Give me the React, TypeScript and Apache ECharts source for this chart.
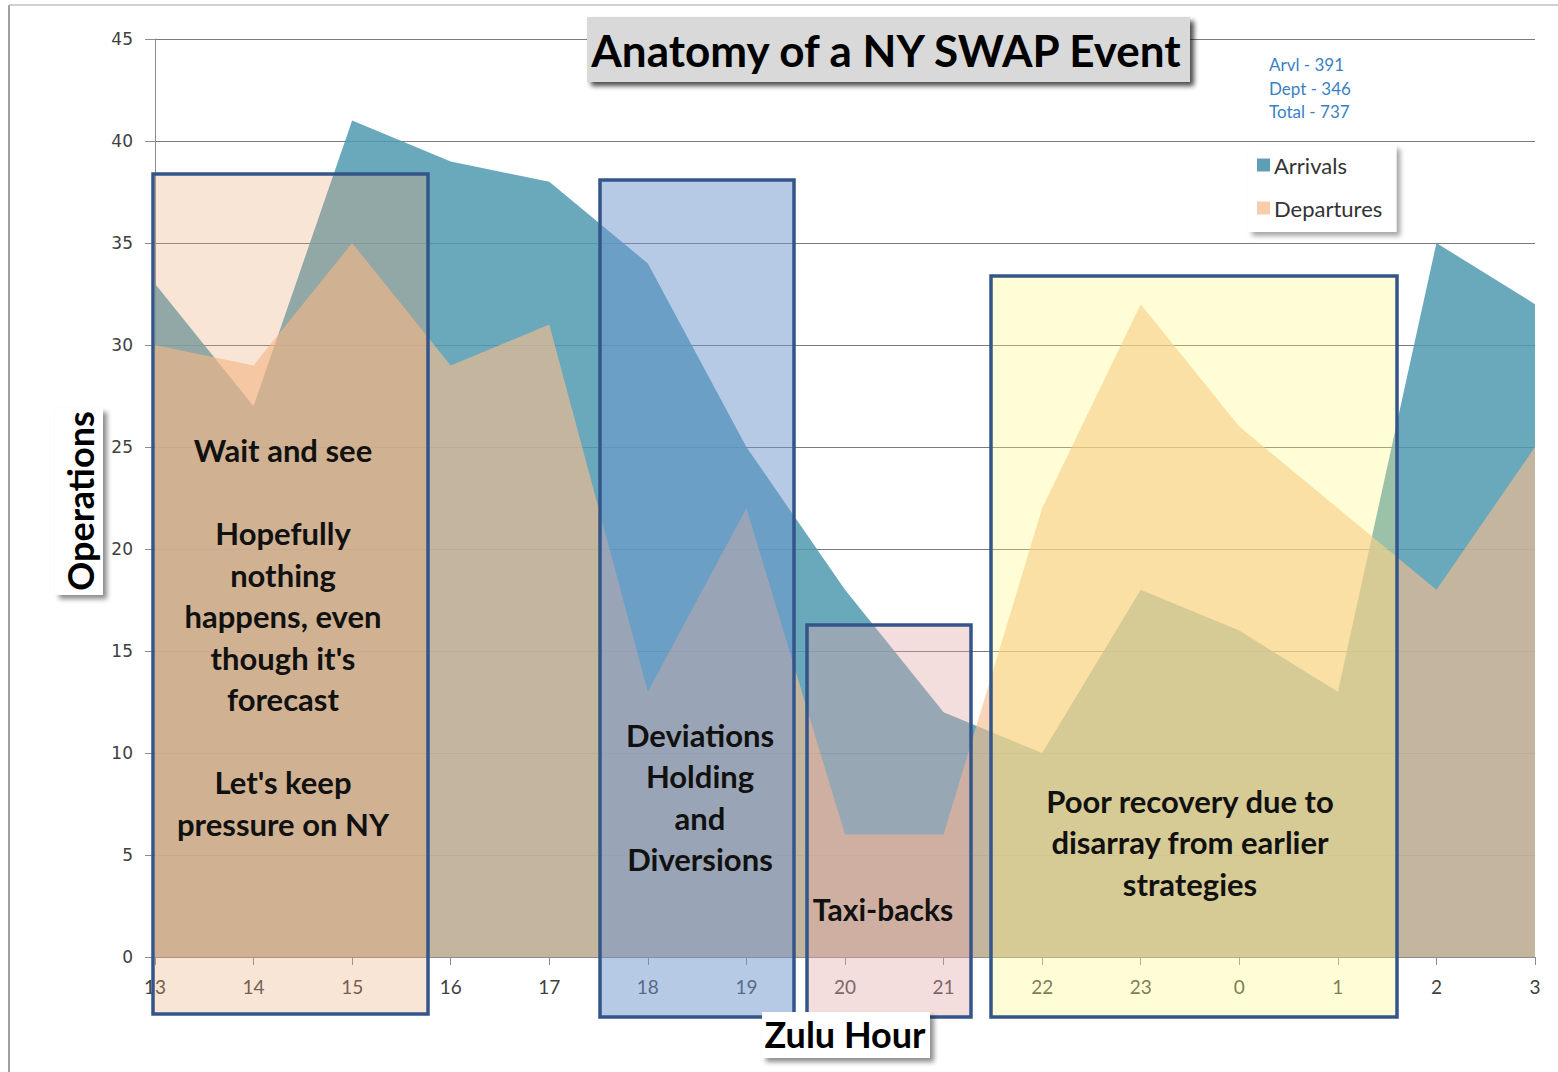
import React, { useEffect, useRef } from "react";
import * as echarts from "echarts";

const hours = ["13", "14", "15", "16", "17", "18", "19", "20", "21", "22", "23", "0", "1", "2", "3"];
const arrivals = [33, 27, 41, 39, 38, 34, 25, 18, 12, 10, 18, 16, 13, 35, 32];
const departures = [30, 29, 35, 29, 31, 13, 22, 6, 6, 22, 32, 26, 22, 18, 25];
const yTicks = { min: 0, max: 45, interval: 5 };

const titleText = "Anatomy of a NY SWAP Event";
const statsLines = ["Arvl - 391", "Dept - 346", "Total - 737"];

const boxTexts = [
  "Wait and see\n\nHopefully\nnothing\nhappens, even\nthough it's\nforecast\n\nLet's keep\npressure on NY",
  "Deviations\nHolding\nand\nDiversions",
  "Taxi-backs",
  "Poor recovery due to\ndisarray from earlier\nstrategies",
];

const TEAL = "rgba(80,153,176,0.85)";
const PEACH = "rgba(247,187,141,0.64)";
const FONT = "Lato, 'Noto Sans', sans-serif";

export default function App() {
  const ref = useRef<HTMLDivElement>(null);
  useEffect(() => {
    if (!ref.current) return;
    const chart = echarts.init(ref.current, null, { renderer: "svg" });
    const shadow = { shadowBlur: 5, shadowOffsetX: 4, shadowOffsetY: 4, shadowColor: "rgba(0,0,0,0.45)" };
    const boxStroke = "#34558a";
    const mkBox = (x: number, y: number, w: number, h: number, fill: string) => ({
      type: "rect",
      z: 50,
      shape: { x, y, width: w, height: h },
      style: { fill, stroke: boxStroke, lineWidth: 3.5 },
    });
    const mkText = (x: number, y: number, text: string, size = 31) => ({
      type: "text",
      z: 60,
      x,
      y,
      style: {
        text,
        fill: "#111",
        font: `bold ${size}px ${FONT}`,
        align: "center",
        verticalAlign: "middle",
        lineHeight: 41.5,
      },
    });
    chart.setOption({
      animation: false,
      backgroundColor: "#fff",
      grid: { left: 155, right: 23, top: 39, bottom: 115, containLabel: false },
      xAxis: {
        type: "value",
        min: 0,
        max: hours.length - 1,
        interval: 1,
        axisLine: { show: true, lineStyle: { color: "#8c8c8c", width: 1 } },
        axisTick: { show: true, length: 8, lineStyle: { color: "#8c8c8c" } },
        splitLine: { show: false },
        axisLabel: {
          formatter: (v: number) => hours[v] ?? "",
          color: "#404040",
          fontSize: 19,
          fontFamily: FONT,
          margin: 20,
        },
      },
      yAxis: {
        type: "value",
        min: yTicks.min,
        max: yTicks.max,
        interval: yTicks.interval,
        axisLine: { show: true, lineStyle: { color: "#8c8c8c", width: 1 } },
        axisTick: { show: true, length: 10, lineStyle: { color: "#8c8c8c" } },
        splitLine: { show: true, lineStyle: { color: "#7a7a7a", width: 1 } },
        axisLabel: {
          color: "#404040",
          fontSize: 17,
          fontFamily: "'DejaVu Sans', sans-serif",
          margin: 22,
        },
      },
      legend: {
        orient: "vertical",
        left: 1248,
        top: 145,
        padding: [9, 14, 13, 9],
        itemGap: 21,
        itemWidth: 13,
        itemHeight: 13,
        icon: "rect",
        backgroundColor: "#fff",
        shadowBlur: 5,
        shadowOffsetX: 4,
        shadowOffsetY: 4,
        shadowColor: "rgba(0,0,0,0.35)",
        textStyle: { fontSize: 22, color: "#333", fontFamily: FONT, padding: [0, 0, 0, -1] },
        data: [
          { name: "Arrivals", itemStyle: { color: "#5f9fb5" } },
          { name: "Departures", itemStyle: { color: "#f9cda9" } },
        ],
      },
      series: [
        {
          name: "Arrivals",
          type: "line",
          data: arrivals.map((v, i) => [i, v]),
          showSymbol: false,
          lineStyle: { width: 0 },
          itemStyle: { color: "#5f9fb5" },
          areaStyle: { color: TEAL, opacity: 1 },
          z: 2,
        },
        {
          name: "Departures",
          type: "line",
          data: departures.map((v, i) => [i, v]),
          showSymbol: false,
          lineStyle: { width: 0 },
          itemStyle: { color: "#f9cda9" },
          areaStyle: { color: PEACH, opacity: 1 },
          z: 3,
        },
      ],
      graphic: [
        // outer frame
        { type: "line", z: 1, shape: { x1: 9, y1: 5, x2: 9, y2: 1072 }, style: { stroke: "#a0a0a0", lineWidth: 2 } },
        { type: "line", z: 1, shape: { x1: 9, y1: 5, x2: 1558, y2: 5 }, style: { stroke: "#c0c0c0", lineWidth: 1.5 } },
        // annotation boxes
        mkBox(153, 174, 275, 840, "rgba(235,170,120,0.3)"),
        mkBox(600, 180, 194, 837, "rgba(110,150,205,0.5)"),
        mkBox(807, 625, 164, 392, "rgba(225,165,165,0.38)"),
        mkBox(991, 276, 406, 741, "rgba(255,248,130,0.33)"),
        mkText(283, 637, boxTexts[0]),
        mkText(700, 797, boxTexts[1]),
        mkText(883, 909, boxTexts[2], 30),
        mkText(1190, 842, boxTexts[3]),
        // highlight line
        {
          type: "line",
          z: 70,
          shape: { x1: 615, y1: 647, x2: 777, y2: 647 },
          style: { stroke: "#ffff00", lineWidth: 8, shadowBlur: 24, shadowColor: "rgba(170,215,60,0.95)" },
        },
        // title
        {
          type: "rect",
          z: 80,
          shape: { x: 587, y: 17, width: 603, height: 65 },
          style: { fill: "#d9d9d9", ...shadow, shadowColor: "rgba(0,0,0,0.7)" },
        },
        {
          type: "text",
          z: 81,
          x: 886,
          y: 50,
          style: { text: titleText, fill: "#000", font: `bold 44px ${FONT}`, align: "center", verticalAlign: "middle" },
        },
        // stats
        {
          type: "text",
          z: 81,
          x: 1269,
          y: 88,
          style: {
            text: statsLines.join("\n"),
            fill: "#3a7fc4",
            font: `17px ${FONT}`,
            align: "left",
            verticalAlign: "middle",
            lineHeight: 23.5,
          },
        },
        // y axis title
        {
          type: "rect",
          z: 80,
          shape: { x: 55, y: 408, width: 48, height: 187 },
          style: { fill: "#fff", ...shadow },
        },
        {
          type: "text",
          z: 81,
          x: 80,
          y: 501,
          rotation: Math.PI / 2,
          style: { text: "Operations", fill: "#000", font: `bold 36px ${FONT}`, align: "center", verticalAlign: "middle" },
        },
        // x axis title
        {
          type: "rect",
          z: 80,
          shape: { x: 762, y: 1012, width: 168, height: 46 },
          style: { fill: "#fff", ...shadow },
        },
        {
          type: "text",
          z: 81,
          x: 845,
          y: 1034,
          style: { text: "Zulu Hour", fill: "#000", font: `bold 36px ${FONT}`, align: "center", verticalAlign: "middle" },
        },
      ],
    });
    return () => chart.dispose();
  }, []);
  return (
    <div
      ref={ref}
      style={{ position: "fixed", left: 0, top: 0, width: 1558, height: 1072, background: "#fff" }}
    />
  );
}
